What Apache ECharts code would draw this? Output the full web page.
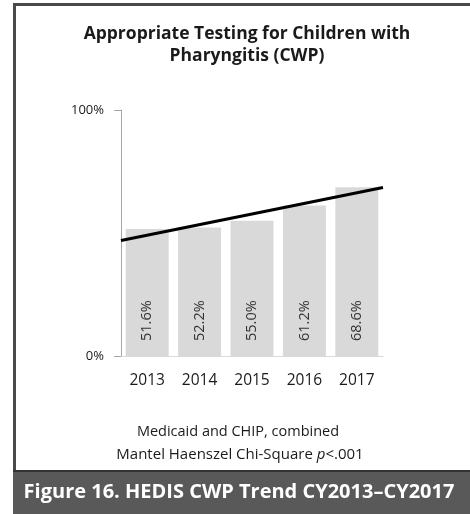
<!DOCTYPE html>
<html>
<head>
<meta charset="utf-8">
<script src="https://cdn.jsdelivr.net/npm/echarts@6/dist/echarts.min.js"></script>
<style>
  html, body { margin: 0; padding: 0; background: #ffffff; }
  #chart { width: 470px; height: 514px; }
</style>
</head>
<body>
<div id="chart"></div>
<script>
// Measurement years and the combined Medicaid/CHIP CWP rates (%)
var years = ['2013', '2014', '2015', '2016', '2017'];
var rates = [51.6, 52.2, 55.0, 61.2, 68.6];
var yTicks = [0, 100];

var FONT = '"Open Sans", "Noto Sans", sans-serif';
var INK = '#1a1a1a';

// Least-squares linear trend across the years, drawn edge to edge of the plot
function linearTrend(values) {
  var n = values.length, sx = 0, sy = 0, sxy = 0, sxx = 0;
  for (var i = 0; i < n; i++) {
    sx += i; sy += values[i]; sxy += i * values[i]; sxx += i * i;
  }
  var slope = (n * sxy - sx * sy) / (n * sxx - sx * sx);
  var icpt = (sy - slope * sx) / n;
  return [[-0.5, icpt - 0.5 * slope], [n - 0.5, icpt + (n - 0.5) * slope]];
}

var chart = echarts.init(document.getElementById('chart'), null, { renderer: 'canvas' });

chart.setOption({
  animation: false,
  backgroundColor: '#ffffff',
  textStyle: { fontFamily: FONT },
  grid: { left: 121, right: 87, top: 110, bottom: 158 },
  xAxis: [
    {
      type: 'category',
      data: years,
      axisLine: { show: true, onZero: false, lineStyle: { color: '#d9d9d9', width: 1 } },
      axisTick: { show: false },
      axisLabel: { color: INK, fontSize: 15.5, margin: 17, fontFamily: FONT }
    },
    {
      type: 'value',
      min: -0.5,
      max: years.length - 0.5,
      show: false
    }
  ],
  yAxis: {
    type: 'value',
    min: yTicks[0],
    max: yTicks[1],
    interval: 100,
    axisLine: { show: true, onZero: false, lineStyle: { color: '#a6a6a6', width: 1 } },
    axisTick: { show: true, length: 7, lineStyle: { color: '#a6a6a6' } },
    splitLine: { show: false },
    axisLabel: { color: INK, fontSize: 13, margin: 17, formatter: '{value}%', fontFamily: FONT }
  },
  series: [
    {
      type: 'bar',
      xAxisIndex: 0,
      data: rates,
      barCategoryGap: '18%',
      itemStyle: { color: '#d9d9d9' },
      label: {
        show: true,
        position: 'insideBottom',
        rotate: 90,
        align: 'left',
        verticalAlign: 'middle',
        distance: 15,
        color: '#333333',
        fontSize: 14.5,
        fontFamily: FONT,
        formatter: function (p) { return p.value.toFixed(1) + '%'; }
      }
    },
    {
      type: 'line',
      xAxisIndex: 1,
      data: linearTrend(rates),
      symbol: 'none',
      lineStyle: { color: '#000000', width: 3 },
      z: 5
    }
  ],
  graphic: [
    // frame: left and top rules
    { type: 'rect', shape: { x: 13, y: 3, width: 3, height: 511 }, style: { fill: '#4a4a4a' }, silent: true },
    { type: 'rect', shape: { x: 13, y: 3, width: 457, height: 3 }, style: { fill: '#4a4a4a' }, silent: true },
    // chart title
    {
      type: 'text', x: 247, y: 34,
      style: { text: 'Appropriate Testing for Children with', fontFamily: FONT, fontSize: 17.5, fontWeight: 'bold', fill: INK, textAlign: 'center', textVerticalAlign: 'middle' },
      silent: true
    },
    {
      type: 'text', x: 247, y: 56,
      style: { text: 'Pharyngitis (CWP)', fontFamily: FONT, fontSize: 17.5, fontWeight: 'bold', fill: INK, textAlign: 'center', textVerticalAlign: 'middle' },
      silent: true
    },
    // footnote
    {
      type: 'text', x: 238, y: 432,
      style: { text: 'Medicaid and CHIP, combined', fontFamily: FONT, fontSize: 14.5, fill: INK, textAlign: 'center', textVerticalAlign: 'middle' },
      silent: true
    },
    {
      type: 'text', x: 240, y: 455,
      style: {
        text: '{n|Mantel Haenszel Chi-Square }{i|p}{n|<.001}',
        textAlign: 'center',
        textVerticalAlign: 'middle',
        rich: {
          n: { fontFamily: FONT, fontSize: 15, fill: INK },
          i: { fontFamily: FONT, fontSize: 15, fill: INK, fontStyle: 'italic' }
        }
      },
      silent: true
    },
    // caption band
    { type: 'rect', shape: { x: 13, y: 471, width: 457, height: 43 }, style: { fill: '#595959' }, silent: true },
    { type: 'rect', shape: { x: 13, y: 470, width: 457, height: 2 }, style: { fill: '#333333' }, silent: true },
    {
      type: 'text', x: 239, y: 492,
      style: { text: 'Figure 16. HEDIS CWP Trend CY2013\u2013CY2017', fontFamily: FONT, fontSize: 20, fontWeight: 'bold', fill: '#ffffff', textAlign: 'center', textVerticalAlign: 'middle' },
      silent: true
    }
  ]
});
</script>
</body>
</html>
